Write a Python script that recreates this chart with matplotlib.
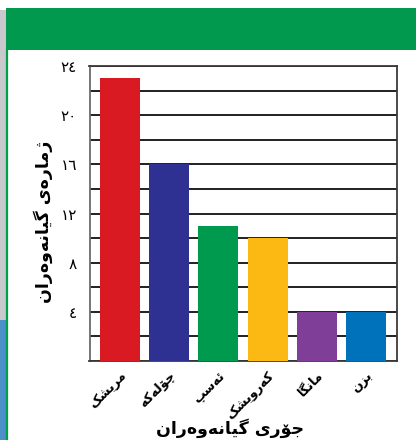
import matplotlib
matplotlib.use("Agg")
import matplotlib.pyplot as plt
from matplotlib.patches import Rectangle
from matplotlib.lines import Line2D
from matplotlib.ticker import MultipleLocator, FixedLocator, FixedFormatter

# ---------------- data ----------------
categories = ["مریشک", "چۆلەکە", "ئەسپ", "کەروێشک", "مانگا", "بزن"]
counts = [23, 16, 11, 10, 4, 4]
bar_colors = ["#DA1A22", "#2E3192", "#009A4E", "#FDB913", "#7F3F98", "#0072BC"]
ytick_values = [4, 8, 12, 16, 20, 24]
ytick_labels = ["٤", "٨", "١٢", "١٦", "٢٠", "٢٤"]
x_title = "جۆری گیانەوەران"
y_title = "ژمارەی گیانەوەران"

# ------------- simple Arabic-script shaping (matplotlib has no shaping) -------------
FORMS = {
    'ا': ('R', 0xFE8D, 0xFE8E, None, None),
    'ب': ('D', 0xFE8F, 0xFE90, 0xFE91, 0xFE92),
    'پ': ('D', 0xFB56, 0xFB57, 0xFB58, 0xFB59),
    'ج': ('D', 0xFE9D, 0xFE9E, 0xFE9F, 0xFEA0),
    'چ': ('D', 0xFB7A, 0xFB7B, 0xFB7C, 0xFB7D),
    'ر': ('R', 0xFEAD, 0xFEAE, None, None),
    'ز': ('R', 0xFEAF, 0xFEB0, None, None),
    'ژ': ('R', 0xFB8A, 0xFB8B, None, None),
    'س': ('D', 0xFEB1, 0xFEB2, 0xFEB3, 0xFEB4),
    'ش': ('D', 0xFEB5, 0xFEB6, 0xFEB7, 0xFEB8),
    'ک': ('D', 0xFB8E, 0xFB8F, 0xFB90, 0xFB91),
    'گ': ('D', 0xFB92, 0xFB93, 0xFB94, 0xFB95),
    'ل': ('D', 0xFEDD, 0xFEDE, 0xFEDF, 0xFEE0),
    'م': ('D', 0xFEE1, 0xFEE2, 0xFEE3, 0xFEE4),
    'ن': ('D', 0xFEE5, 0xFEE6, 0xFEE7, 0xFEE8),
    'و': ('R', 0xFEED, 0xFEEE, None, None),
    'ی': ('D', 0xFBFC, 0xFBFD, 0xFBFE, 0xFBFF),
    'ێ': ('D', 0x06CE, 0xFBFD, 0xFBFE, 0xFBFF),
    'ئ': ('D', 0xFE89, 0xFE8A, 0xFE8B, 0xFE8C),
    'ۆ': ('R', 0xFBD9, 0xFBDA, None, None),
    'ە': ('R', 0x06D5, 0xFEEA, None, None),
}


def shape(text):
    out = []
    n = len(text)
    for i, ch in enumerate(text):
        if ch not in FORMS:
            out.append(ch)
            continue
        jt, iso, fin, ini, med = FORMS[ch]
        prev = text[i - 1] if i > 0 else None
        nxt = text[i + 1] if i < n - 1 else None
        jp = prev in FORMS and FORMS[prev][0] == 'D'
        jn = jt == 'D' and nxt in FORMS
        if jp and jn:
            cp = med
        elif jp:
            cp = fin
        elif jn:
            cp = ini
        else:
            cp = iso
        out.append(chr(cp))
    return "".join(reversed(out))


plt.rcParams['font.family'] = ['DejaVu Sans']

fig = plt.figure(figsize=(4.16, 4.45), dpi=100, facecolor="white")
W, H = 416.0, 445.0

# ---------------- page decoration ----------------
fig.patches.append(Rectangle((0, (H - 325) / H), 6 / W, 315 / H, transform=fig.transFigure,
                             facecolor="#c9c9cd", edgecolor="none", zorder=-2))
fig.patches.append(Rectangle((0, 5 / H), 7 / W, 120 / H, transform=fig.transFigure,
                             facecolor="#4d8fc9", edgecolor="none", zorder=-2))
fig.lines.append(Line2D([7.5 / W, 7.5 / W], [(H - 50) / H, 6 / H], transform=fig.transFigure,
                        color="#00a04b", lw=1.6, zorder=-1))
fig.patches.append(Rectangle((6 / W, (H - 50) / H), 1, 42 / H, transform=fig.transFigure,
                             facecolor="#00994D", edgecolor="none", zorder=-1))

# ---------------- axes ----------------
ax = fig.add_axes([89.5 / W, (H - 361) / H, 307.5 / W, 295 / H])
ax.set_zorder(2)
x = list(range(len(categories)))
ax.bar(x, counts, width=0.81, color=bar_colors, zorder=3)
ax.set_xlim(-0.62, 5.63)
ax.set_ylim(0, 24)

ax.yaxis.set_major_locator(FixedLocator(ytick_values))
ax.yaxis.set_major_formatter(FixedFormatter(ytick_labels))
ax.yaxis.set_minor_locator(MultipleLocator(2))
ax.grid(axis="y", which="both", color="#231f20", lw=1.4, zorder=1)
ax.set_axisbelow(True)
ax.tick_params(axis="y", which="both", length=0, pad=9, labelsize=11)
ax.tick_params(axis="x", length=0, pad=6)

ax.set_xticks(x)
ax.set_xticklabels([shape(c) for c in categories], rotation=45, ha="right",
                   rotation_mode="anchor", fontsize=9.2, fontweight="bold")

for s in ax.spines.values():
    s.set_color("#3a3a3a")
    s.set_linewidth(1.3)
ax.spines["left"].set_color("#6b6b6b")

fig.text(230 / W, (H - 428) / H, shape(x_title), ha="center", va="center",
         fontsize=12.5, fontweight="bold")
fig.text(43 / W, (H - 222) / H, shape(y_title), ha="center", va="center",
         rotation=90, fontsize=12.5, fontweight="bold")

fig.savefig("out.png", dpi=100, facecolor="white")
